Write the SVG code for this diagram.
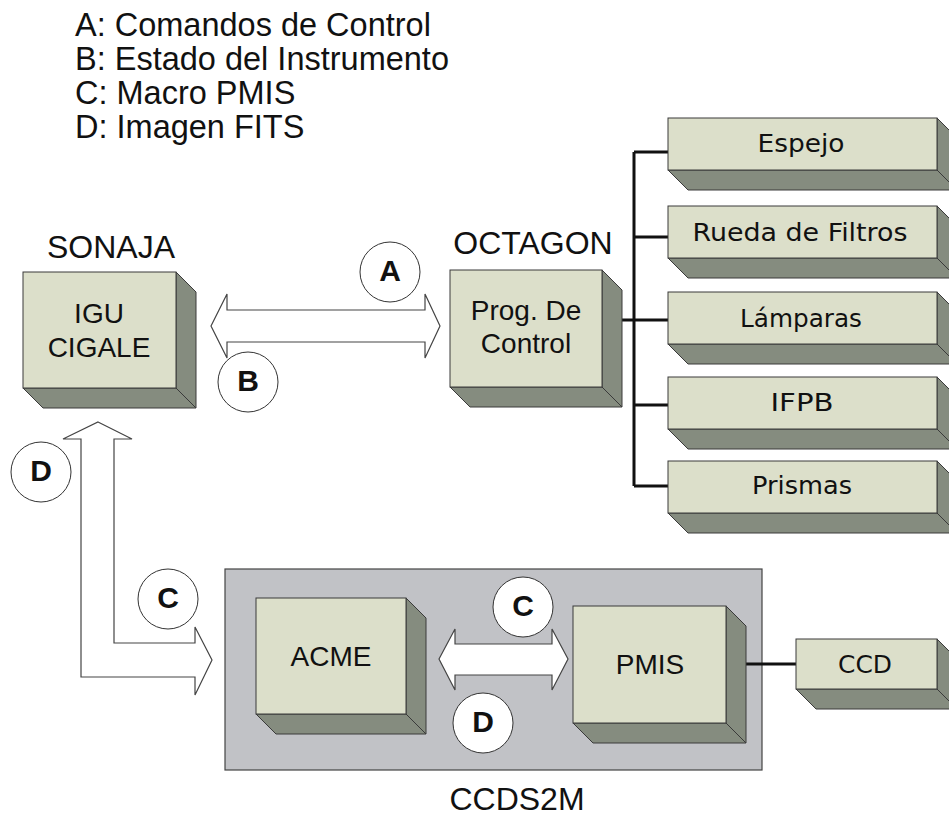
<svg xmlns="http://www.w3.org/2000/svg" width="949" height="820" viewBox="0 0 949 820">
  <style>
    .front { fill: #dcdfca; stroke: #3a3a3a; stroke-width: 1; }
    .side { fill: #858c7f; stroke: #3a3a3a; stroke-width: 1; stroke-linejoin: round; }
    .lbl { font-family: "Liberation Sans", Arial, sans-serif; fill: #111; text-anchor: middle; }
    .big { font-size: 32px; }
    .box { font-size: 28px; }
    .legend { font-family: "Liberation Sans", Arial, sans-serif; font-size: 32.5px; fill: #111; }
    .hand { font-family: "DejaVu Sans", "Noto Sans", sans-serif; font-size: 24px; fill: #111; text-anchor: middle; }
    .bubble { fill: #ffffff; stroke: #333; stroke-width: 1; }
    .tag { font-family: "Liberation Sans", Arial, sans-serif; font-weight: bold; font-size: 30px; fill: #111; text-anchor: middle; }
    .fat { fill: #ffffff; stroke: #444; stroke-width: 1.2; stroke-linejoin: miter; }
    .wire { fill: none; stroke: #111; stroke-width: 3; }
  </style>

  <!-- legend -->
  <g id="legend">
    <text class="legend" x="75" y="36">A: Comandos de Control</text>
    <text class="legend" x="75" y="70">B: Estado del Instrumento</text>
    <text class="legend" x="75" y="104">C: Macro PMIS</text>
    <text class="legend" x="75" y="138">D: Imagen FITS</text>
  </g>

  <!-- CCDS2M container -->
  <g id="ccds2m">
    <rect x="225" y="569" width="537" height="201" fill="#c1c2c6" stroke="#444" stroke-width="1.2"/>
    <text class="lbl big" x="517" y="810">CCDS2M</text>
  </g>

  <!-- connectors -->
  <g id="connectors">
    <!-- OCTAGON fan-out -->
    <path class="wire" d="M622,320 H634 M634,152 V486 M634,152 H668 M634,237 H668 M634,320 H668 M634,405 H668 M634,486 H668"/>
    <!-- PMIS to CCD -->
    <path class="wire" d="M746,664 H796"/>
    <!-- A/B double arrow -->
    <polygon class="fat" points="211,326 227,294 227,310 425,310 425,294 440,326 425,358 425,342 227,342 227,358"/>
    <!-- C/D double arrow inside CCDS2M -->
    <polygon class="fat" points="439,659 455,629 455,644 552,644 552,629 568,659 552,690 552,675 455,675 455,690"/>
    <!-- L-shaped arrow SONAJA / ACME -->
    <polygon class="fat" points="98,422 132,439 114,439 114,643 195,643 195,627 212,660 195,695 195,677 81,677 81,439 63,439"/>
  </g>

  <!-- labels on connectors -->
  <g id="tag-a"><circle class="bubble" cx="390" cy="272" r="30"/><text class="tag" x="390" y="281">A</text></g>
  <g id="tag-b"><circle class="bubble" cx="248" cy="382" r="30"/><text class="tag" x="248" y="391">B</text></g>
  <g id="tag-d1"><circle class="bubble" cx="41" cy="472" r="30"/><text class="tag" x="41" y="481">D</text></g>
  <g id="tag-c1"><circle class="bubble" cx="168" cy="599" r="30"/><text class="tag" x="168" y="608">C</text></g>
  <g id="tag-c2"><circle class="bubble" cx="523" cy="607" r="30"/><text class="tag" x="523" y="616">C</text></g>
  <g id="tag-d2"><circle class="bubble" cx="483" cy="723" r="30"/><text class="tag" x="483" y="732">D</text></g>

  <!-- SONAJA -->
  <g id="sonaja">
    <text class="lbl big" x="111" y="258">SONAJA</text>
    <polygon class="side" points="176,272 196,292 196,408 176,388"/>
    <polygon class="side" points="23,388 176,388 196,408 43,408"/>
    <rect class="front" x="23" y="272" width="153" height="116"/>
    <text class="lbl box" x="99" y="323">IGU</text>
    <text class="lbl box" x="99" y="357">CIGALE</text>
  </g>

  <!-- OCTAGON -->
  <g id="octagon">
    <text class="lbl big" x="533" y="254">OCTAGON</text>
    <polygon class="side" points="602,270 622,290 622,407 602,387"/>
    <polygon class="side" points="450,387 602,387 622,407 470,407"/>
    <rect class="front" x="450" y="270" width="152" height="117"/>
    <text class="lbl box" x="526" y="320">Prog. De</text>
    <text class="lbl box" x="526" y="353">Control</text>
  </g>

  <!-- instrument devices -->
  <g id="espejo">
    <polygon class="side" points="937,118 957,138 957,190 937,170"/>
    <polygon class="side" points="668,170 937,170 957,190 688,190"/>
    <rect class="front" x="668" y="118" width="269" height="52"/>
    <text class="hand" x="801" y="152" textLength="87" lengthAdjust="spacingAndGlyphs">Espejo</text>
  </g>
  <g id="rueda">
    <polygon class="side" points="937,206 957,226 957,278 937,258"/>
    <polygon class="side" points="668,258 937,258 957,278 688,278"/>
    <rect class="front" x="668" y="206" width="269" height="52"/>
    <text class="hand" x="800" y="241" textLength="215" lengthAdjust="spacingAndGlyphs">Rueda de Filtros</text>
  </g>
  <g id="lamparas">
    <polygon class="side" points="937,292 957,312 957,364 937,344"/>
    <polygon class="side" points="668,344 937,344 957,364 688,364"/>
    <rect class="front" x="668" y="292" width="269" height="52"/>
    <text class="hand" x="801" y="327" textLength="122" lengthAdjust="spacingAndGlyphs">Lámparas</text>
  </g>
  <g id="ifpb">
    <polygon class="side" points="937,377 957,397 957,449 937,429"/>
    <polygon class="side" points="668,429 937,429 957,449 688,449"/>
    <rect class="front" x="668" y="377" width="269" height="52"/>
    <text class="hand" x="802" y="411" textLength="63" lengthAdjust="spacingAndGlyphs">IFPB</text>
  </g>
  <g id="prismas">
    <polygon class="side" points="937,461 957,481 957,533 937,513"/>
    <polygon class="side" points="668,513 937,513 957,533 688,533"/>
    <rect class="front" x="668" y="461" width="269" height="52"/>
    <text class="hand" x="802" y="494" textLength="100" lengthAdjust="spacingAndGlyphs">Prismas</text>
  </g>

  <!-- ACME -->
  <g id="acme">
    <polygon class="side" points="406,598 426,618 426,734 406,714"/>
    <polygon class="side" points="256,714 406,714 426,734 276,734"/>
    <rect class="front" x="256" y="598" width="150" height="116"/>
    <text class="lbl box" x="331" y="666">ACME</text>
  </g>

  <!-- PMIS -->
  <g id="pmis">
    <polygon class="side" points="726,606 746,626 746,743 726,723"/>
    <polygon class="side" points="573,723 726,723 746,743 593,743"/>
    <rect class="front" x="573" y="606" width="153" height="117"/>
    <text class="lbl box" x="650" y="674">PMIS</text>
  </g>

  <!-- CCD -->
  <g id="ccd">
    <polygon class="side" points="937,639 957,659 957,709 937,689"/>
    <polygon class="side" points="796,689 937,689 957,709 816,709"/>
    <rect class="front" x="796" y="639" width="141" height="50"/>
    <text class="hand" x="865" y="673" textLength="54" lengthAdjust="spacingAndGlyphs">CCD</text>
  </g>
</svg>
